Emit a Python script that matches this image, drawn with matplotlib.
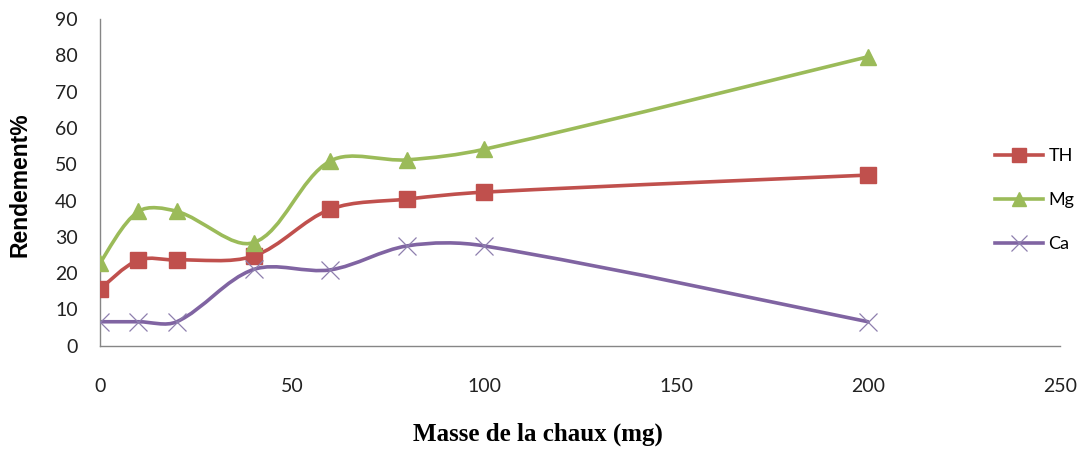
import numpy as np
import matplotlib.pyplot as plt
from matplotlib.path import Path
from matplotlib.patches import PathPatch
from matplotlib.lines import Line2D

# data
masse = [0, 10, 20, 40, 60, 80, 100, 200]
th = [15.6, 23.6, 23.6, 24.7, 37.6, 40.4, 42.3, 47.0]
mg = [22.8, 37.0, 37.0, 28.4, 50.9, 51.2, 54.1, 79.6]
ca = [6.6, 6.6, 6.6, 21.0, 20.9, 27.5, 27.5, 6.6]

colors = {'TH': '#C0504D', 'Mg': '#9BBB59', 'Ca': '#8064A2'}
markers = {'TH': 's', 'Mg': '^', 'Ca': 'x'}

# rough px per data unit, used to weight the smoothing like excel does
SX, SY = 3.84, 3.63


def smooth_path(x, y):
    pts = np.column_stack([x, y]).astype(float)
    n = len(pts)

    def dist(a, b):
        return np.hypot((b[0] - a[0]) * SX, (b[1] - a[1]) * SY)

    verts = [pts[0]]
    codes = [Path.MOVETO]
    for i in range(n - 1):
        p0 = pts[i - 1] if i > 0 else pts[i]
        p1 = pts[i]
        p2 = pts[i + 1]
        p3 = pts[i + 2] if i + 2 < n else pts[i + 1]
        d01, d12, d23 = dist(p0, p1), dist(p1, p2), dist(p2, p3)
        k1 = d12 / (d01 + d12) / 3.0 if d01 > 0 else 1 / 6
        k2 = d12 / (d12 + d23) / 3.0 if d23 > 0 else 1 / 6
        c1 = p1 + (p2 - p0) * k1
        c2 = p2 - (p3 - p1) * k2
        verts += [c1, c2, p2]
        codes += [Path.CURVE4] * 3
    return Path(verts, codes)


fig = plt.figure(figsize=(10.84, 4.55), dpi=100)
ax = fig.add_axes([100 / 1084, (455 - 345.7) / 455, 960 / 1084, 326.7 / 455])

handles = []
for name, vals in [('TH', th), ('Mg', mg), ('Ca', ca)]:
    c = colors[name]
    ax.add_patch(PathPatch(smooth_path(masse, vals), facecolor='none',
                           edgecolor=c, lw=2.6, capstyle='round', zorder=2))
    if name == 'Ca':
        ax.plot(masse, vals, ls='none', marker='x', ms=13, mew=0.9,
                color='#8E7FAE', zorder=3)
        handles.append(Line2D([], [], color=c, lw=2.6, marker='x', ms=11,
                              mew=0.9, mec='#8E7FAE', label=name))
    else:
        ax.plot(masse, vals, ls='none', marker=markers[name], ms=12,
                color=c, mec=c, zorder=3)
        handles.append(Line2D([], [], color=c, lw=2.6, marker=markers[name],
                              ms=10, mec=c, label=name))

ax.set_xlim(0, 250)
ax.set_ylim(0, 90)
ax.set_xticks(range(0, 251, 50))
ax.set_yticks(range(0, 91, 10))
for s in ['top', 'right']:
    ax.spines[s].set_visible(False)
for s in ['left', 'bottom']:
    ax.spines[s].set_color('#868686')
    ax.spines[s].set_linewidth(1.0)
ax.tick_params(length=0)
ax.tick_params(axis='y', pad=16, labelsize=14, labelcolor='#222222')
ax.tick_params(axis='x', pad=23, labelsize=14, labelcolor='#222222')
for t in ax.get_xticklabels() + ax.get_yticklabels():
    t.set_family('Lato')

ax.set_ylabel('Rendement%', fontsize=16.5, fontweight='bold',
              family='Liberation Sans')
ax.yaxis.set_label_coords(-0.071, 0.492)
ax.set_xlabel('Masse de la chaux (mg)', fontsize=18, fontweight='bold',
              family='Liberation Serif')
ax.xaxis.set_label_coords((538 - 100) / 960, -0.2366)

fig.legend(handles=handles, loc='center left', bbox_to_anchor=(995 / 1084, 1 - 200 / 455),
           frameon=False, handlelength=2.65, handletextpad=0.3,
           borderpad=0, borderaxespad=0,
           labelspacing=1.55, prop={'family': 'Lato', 'size': 13})

fig.savefig('out.png', dpi=100)
